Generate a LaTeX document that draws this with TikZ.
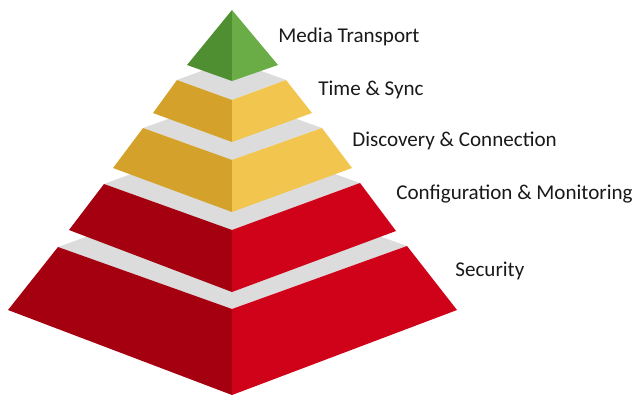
\documentclass[tikz,border=0pt]{standalone}
\usepackage{fontspec}
\setmainfont{Carlito}

\definecolor{greenleft}{RGB}{80,142,50}
\definecolor{greenright}{RGB}{106,172,70}
\definecolor{goldleft}{RGB}{212,162,42}
\definecolor{goldright}{RGB}{242,198,78}
\definecolor{redleft}{RGB}{165,0,16}
\definecolor{redright}{RGB}{208,2,26}
\definecolor{topgray}{RGB}{220,220,220}

\begin{document}
\begin{tikzpicture}[x=0.02cm, y=-0.02cm,
  tier/.style={anchor=base west, inner sep=0pt, text=black!90, font=\fontsize{12}{14}\selectfont}]
\useasboundingbox (0,0) rectangle (636,396);
% Security
\fill[topgray] (58,247) -- (232,309) -- (407,246) -- (233,184) -- cycle;
\fill[redleft] (58,247) -- (232,309) -- (232,395) -- (8,310) -- cycle;
\fill[redright] (232,309) -- (407,246) -- (457,310) -- (232,395) -- cycle;
% Configuration & Monitoring
\fill[topgray] (104,184) -- (232,230) -- (360,183) -- (232,137) -- cycle;
\fill[redleft] (104,184) -- (232,230) -- (232,292) -- (69,230) -- cycle;
\fill[redright] (232,230) -- (360,183) -- (396,231) -- (232,292) -- cycle;
% Discovery & Connection
\fill[topgray] (143,128) -- (232,160) -- (322,128) -- (233,96) -- cycle;
\fill[goldleft] (143,128) -- (232,160) -- (232,212) -- (113,168) -- cycle;
\fill[goldright] (232,160) -- (322,128) -- (352,168) -- (232,212) -- cycle;
% Time & Sync
\fill[topgray] (177,80) -- (232,100) -- (286,80) -- (231,60) -- cycle;
\fill[goldleft] (177,80) -- (232,100) -- (232,142) -- (153,113) -- cycle;
\fill[goldright] (232,100) -- (286,80) -- (312,113) -- (232,142) -- cycle;
% Media Transport
\fill[greenleft] (232,10) -- (232,81) -- (187,65) -- cycle;
\fill[greenright] (232,10) -- (278,65) -- (232,81) -- cycle;

\node[tier] (media) at (278,42) {Media Transport};
\node[tier] (sync) at (318,95) {Time \& Sync};
\node[tier] (discovery) at (352,146) {Discovery \& Connection};
\node[tier] (config) at (396,199) {Configuration \& Monitoring};
\node[tier] (security) at (455,276) {Security};
\end{tikzpicture}
\end{document}
